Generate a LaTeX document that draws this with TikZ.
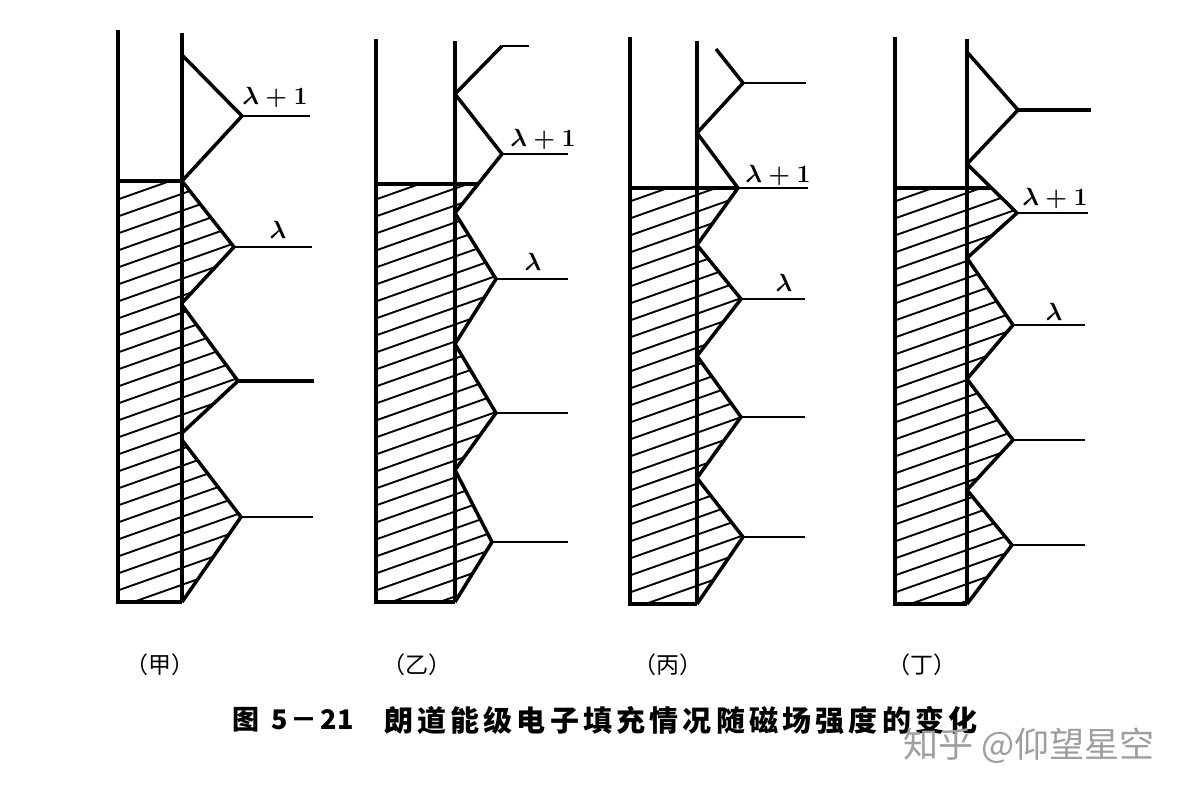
\documentclass[tikz,border=0pt]{standalone}
\usepackage{fontspec}
\newfontfamily\cjk{Noto Sans CJK SC}
\newcommand\cs{\hspace{4.2pt}}
\begin{document}
\begin{tikzpicture}[x=1pt,y=-1pt,
  wall/.style={line width=4pt},
  edge/.style={line width=3.5pt,line join=miter,miter limit=3},
  level/.style={line width=2.6pt},
  thicklevel/.style={line width=3.8pt},
  hatchline/.style={line width=1.9pt},
  lab/.style={font=\fontsize{23}{23}\selectfont\bfseries\boldmath,inner sep=0pt},
  plabel/.style={font=\cjk\fontsize{23}{23}\selectfont,inner sep=0pt},
]
\useasboundingbox[fill=white] (0,0) rectangle (1188,792);

% ---------------- Panel 甲 ----------------
\begin{scope}
  \clip (118,181)--(182,181)--(234,247)--(182,303)--(238,381)--(182,433)--(182,440)--(241,517)--(182,602)--(118,602)--cycle;
  \foreach \k in {0,...,34} \draw[hatchline] (105,{680-17*\k}) -- ++(150,-53);
\end{scope}
\draw[wall] (118,30)--(118,602)--(182,602);
\draw[wall] (182,33)--(182,602);
\draw[wall] (118,181)--(182,181);
\draw[edge] (182,55)--(242,116)--(182,181)--(234,247)--(182,303);
\draw[edge] (182,305)--(238,381)--(182,433);
\draw[edge] (182,440)--(241,517)--(182,602);
\draw[level] (242,116)--(310,116);
\draw[level] (234,247)--(312,247);
\draw[thicklevel] (238,381)--(314,381);
\draw[level] (241,517)--(313,517);
\node[lab] (a1) at (275,97) {$\lambda+1$};
\node[lab] (a0) at (278,230) {$\lambda$};
\node[plabel] (pa) at (160,665) {（甲）};

% ---------------- Panel 乙 ----------------
\begin{scope}
  \clip (376,184)--(478,184)--(455,213)--(496,279)--(455,344)--(496,413)--(455,470)--(492,542)--(455,602)--(376,602)--cycle;
  \foreach \k in {0,...,34} \draw[hatchline] (363,{680-17*\k}) -- ++(150,-53);
\end{scope}
\draw[wall] (376,39)--(376,602)--(455,602);
\draw[wall] (455,41)--(455,602);
\draw[wall] (376,184)--(478,184);
\draw[edge] (502,46)--(455,94)--(502,154)--(455,213)--(496,279)--(455,344)--(496,413)--(455,470)--(492,542)--(455,602);
\draw[level] (502,46)--(529,46);
\draw[level] (502,154)--(568,154);
\draw[level] (496,279)--(568,279);
\draw[level] (496,413)--(568,413);
\draw[level] (492,542)--(568,542);
\node[lab] (b1) at (543,139) {$\lambda+1$};
\node[lab] (b0) at (533,262) {$\lambda$};
\node[plabel] (pb) at (417,665) {（乙）};

% ---------------- Panel 丙 ----------------
\begin{scope}
  \clip (630,188)--(738,188)--(697,245)--(741,299)--(697,356)--(741,417)--(697,478)--(743,537)--(697,604)--(630,604)--cycle;
  \foreach \k in {0,...,34} \draw[hatchline] (617,{682-17*\k}) -- ++(150,-53);
\end{scope}
\draw[wall] (630,37)--(630,604)--(697,604);
\draw[wall] (697,41)--(697,604);
\draw[wall] (630,188)--(738,188);
\draw[edge] (716,49)--(743,83)--(697,133)--(738,188)--(697,245)--(741,299)--(697,356)--(741,417)--(697,478)--(743,537)--(697,604);
\draw[level] (743,83)--(806,83);
\draw[level] (738,188)--(808,188);
\draw[level] (741,299)--(805,299);
\draw[level] (741,417)--(805,417);
\draw[level] (743,537)--(805,537);
\node[lab] (c1) at (778,175) {$\lambda+1$};
\node[lab] (c0) at (784,283) {$\lambda$};
\node[plabel] (pc) at (668,665) {（丙）};

% ---------------- Panel 丁 ----------------
\begin{scope}
  \clip (895,188)--(991,188)--(1017,213)--(967,258)--(1013,325)--(967,379)--(1013,440)--(967,490)--(1012,545)--(967,604)--(895,604)--cycle;
  \foreach \k in {0,...,34} \draw[hatchline] (882,{682-17*\k}) -- ++(150,-53);
\end{scope}
\draw[wall] (895,37)--(895,604)--(967,604);
\draw[wall] (967,39)--(967,604);
\draw[wall] (895,188)--(991,188);
\draw[edge] (967,52)--(1018,110)--(967,164)--(1017,213)--(967,258)--(1013,325)--(967,379)--(1013,440)--(967,490)--(1012,545)--(967,604);
\draw[thicklevel] (1018,110)--(1091,110);
\draw[level] (1017,213)--(1088,213);
\draw[level] (1013,325)--(1085,325);
\draw[level] (1013,440)--(1085,440);
\draw[level] (1012,545)--(1085,545);
\node[lab] (d1) at (1055,198) {$\lambda+1$};
\node[lab] (d0) at (1054,312) {$\lambda$};
\node[plabel] (pd) at (922,665) {（丁）};

% ---------------- Caption ----------------
\node[anchor=west,inner sep=0pt,font=\cjk\bfseries\fontsize{27}{27}\selectfont] (capnum) at (232,720)
  {图\hspace{12pt}5\hspace{3pt}－\hspace{3pt}21};
\node[anchor=west,inner sep=0pt,font=\cjk\bfseries\fontsize{29}{29}\selectfont] (cap) at (384,720)
  {朗\cs 道\cs 能\cs 级\cs 电\cs 子\cs 填\cs 充\cs 情\cs 况\cs 随\cs 磁\cs 场\cs 强\cs 度\cs 的\cs 变\cs 化};
\node[anchor=west,inner sep=0pt,text=black!38,font=\cjk\fontsize{35}{35}\selectfont] (wm) at (903,746)
  {知乎 @仰望星空};
\end{tikzpicture}
\end{document}
